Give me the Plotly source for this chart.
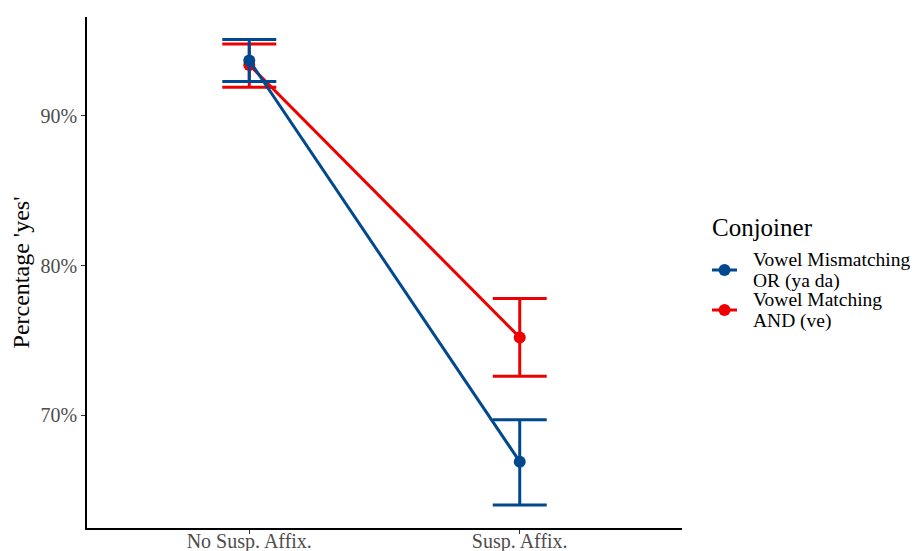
import plotly.graph_objects as go

categories = ["No Susp. Affix.", "Susp. Affix."]
legend_title = "Conjoiner"
series_lines = [["Vowel Mismatching", "OR (ya da)"], ["Vowel Matching", "AND (ve)"]]
mismatch_mean = [93.7, 66.9]
mismatch_hi = [95.1, 69.7]
mismatch_lo = [92.3, 64.0]
match_mean = [93.4, 75.2]
match_hi = [94.8, 77.8]
match_lo = [91.9, 72.6]
y_ticks = [70, 80, 90]
y_tick_labels = ["70%", "80%", "90%"]

colors = ["#00498F", "#EE0000"]
FONT = "Liberation Serif"

fig = go.Figure()
series = [
    (series_lines[0], mismatch_mean, mismatch_hi, mismatch_lo, colors[0]),
    (series_lines[1], match_mean, match_hi, match_lo, colors[1]),
]
# draw red first so the blue point sits on top, as in the reference
for lines, mean, hi, lo, col in reversed(series):
    fig.add_trace(go.Scatter(
        x=[0, 1], y=mean, name=" ".join(lines), mode="lines+markers",
        showlegend=False,
        line=dict(color=col, width=3),
        marker=dict(color=col, size=12),
        error_y=dict(type="data", symmetric=False,
                     array=[h - m for h, m in zip(hi, mean)],
                     arrayminus=[m - l for m, l in zip(mean, lo)],
                     color=col, thickness=3, width=27),
    ))

# manual legend (ggplot-like tight line spacing)
PW, PH = 595.0, 511.0          # plot area size in px
def px_x(dx):                  # px offset from plot left -> paper
    return dx / PW
def px_y(dy):                  # px offset above plot bottom -> paper
    return dy / PH

annotations = [dict(
    text=legend_title, xref="paper", yref="paper",
    x=px_x(623), y=px_y(301), xanchor="left", yanchor="middle",
    showarrow=False, font=dict(size=25, family=FONT, color="black"),
)]
shapes = []
for i, (lines, col) in enumerate(zip(series_lines, colors)):
    base = 269 - 40 * i          # px above plot bottom of first text line
    for j, t in enumerate(lines):
        annotations.append(dict(
            text=t, xref="paper", yref="paper",
            x=px_x(664), y=px_y(base - 22 * j), xanchor="left", yanchor="middle",
            showarrow=False, font=dict(size=19.5, family=FONT, color="black"),
        ))
    ky = px_y(base - 11)
    shapes.append(dict(type="line", xref="paper", yref="paper",
                       x0=px_x(625), x1=px_x(650), y0=ky, y1=ky,
                       line=dict(color=col, width=3)))
    shapes.append(dict(type="circle", xref="paper", yref="paper",
                       xsizemode="pixel", ysizemode="pixel",
                       xanchor=px_x(637.5), yanchor=ky,
                       x0=-6, x1=6, y0=-6, y1=6,
                       fillcolor=col, line=dict(color=col, width=0)))

fig.update_layout(
    width=910, height=543,
    margin=dict(l=79, r=236, t=9, b=23, autoexpand=False),
    paper_bgcolor="white", plot_bgcolor="white",
    font=dict(family=FONT, color="black"),
    showlegend=False,
    annotations=annotations,
    shapes=shapes,
)
fig.update_xaxes(
    range=[-0.6, 1.6], tickvals=[0, 1], ticktext=categories,
    showline=True, linecolor="black", linewidth=1.5,
    ticks="outside", ticklen=4, tickcolor="#333333",
    tickfont=dict(size=20, color="#4D4D4D", family=FONT),
    ticklabelstandoff=-10,
    showgrid=False, zeroline=False, automargin=False,
)
fig.update_yaxes(
    range=[62.47, 96.6], tickvals=y_ticks, ticktext=y_tick_labels,
    showline=True, linecolor="black", linewidth=1.5,
    ticks="outside", ticklen=4, tickcolor="#333333",
    tickfont=dict(size=20, color="#4D4D4D", family=FONT),
    showgrid=False, zeroline=False, automargin=False,
    title=dict(text="Percentage 'yes'", font=dict(size=24, family=FONT), standoff=6),
)

fig.write_html("out.html")
